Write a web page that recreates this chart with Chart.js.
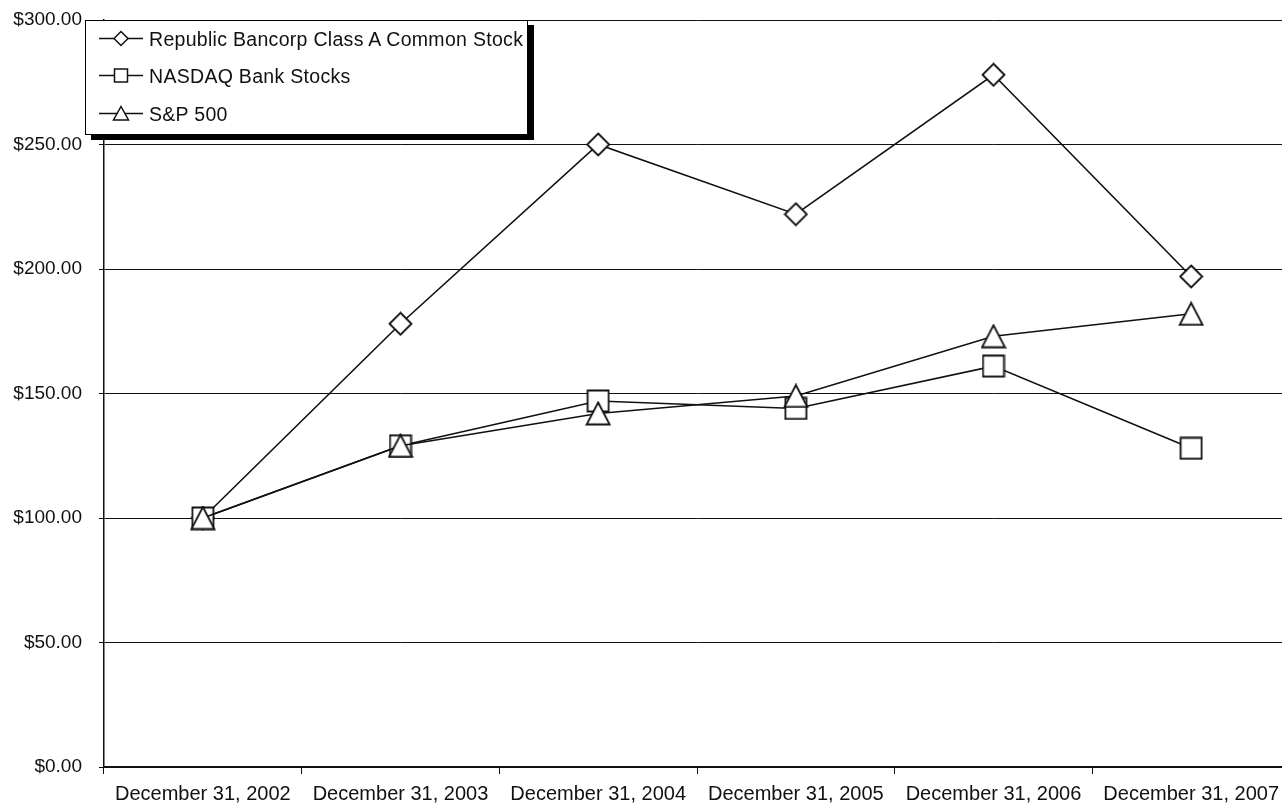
<!DOCTYPE html>
<html>
<head>
<meta charset="utf-8">
<script src="https://cdn.jsdelivr.net/npm/chart.js@4.4.1/dist/chart.umd.min.js"></script>
<style>
  body { margin: 0; background: #fff; overflow: hidden; }
  #wrap { position: relative; width: 1282px; height: 803px; overflow: hidden; }
  #legend {
    position: absolute; left: 85px; top: 20px; width: 443px; height: 115px;
    box-sizing: border-box; border: 1.5px solid #000; background: #fff;
    box-shadow: 6px 5px 0 0 #000;
    font-family: "Liberation Sans", Arial, sans-serif; font-size: 19.5px; color: #111;
    letter-spacing: 0.3px;
  }
  .row { position: absolute; left: 13px; height: 20px; display: flex; align-items: center; }
  .row svg { margin-right: 5px; }
</style>
</head>
<body>
<div id="wrap">
  <canvas id="myChart" width="1290" height="803"></canvas>
  <div id="legend"></div>
</div>
<script>
var years = ["December 31, 2002", "December 31, 2003", "December 31, 2004", "December 31, 2005", "December 31, 2006", "December 31, 2007"];
var seriesNames = ["Republic Bancorp Class A Common Stock", "NASDAQ Bank Stocks", "S&P 500"];
var republic = [100, 178, 250, 222, 278, 197];
var nasdaq = [100, 129, 147, 144, 161, 128];
var sp500 = [100, 129, 142, 149, 173, 182];
var yTicks = [0, 50, 100, 150, 200, 250, 300];

// marker images, drawn centered on the point
function marker(shape, w, h) {
  let c = document.createElement("canvas");
  c.width = w + 3;
  c.height = h + 3;
  let ctx = c.getContext("2d");
  let x0 = 1.5, y0 = 1.5;
  ctx.beginPath();
  if (shape == "diamond") {
    ctx.moveTo(x0 + w / 2, y0);
    ctx.lineTo(x0 + w, y0 + h / 2);
    ctx.lineTo(x0 + w / 2, y0 + h);
    ctx.lineTo(x0, y0 + h / 2);
  } else if (shape == "square") {
    ctx.rect(x0, y0, w, h);
  } else {
    ctx.moveTo(x0 + w / 2, y0);
    ctx.lineTo(x0 + w, y0 + h);
    ctx.lineTo(x0, y0 + h);
  }
  ctx.closePath();
  ctx.fillStyle = "#fff";
  ctx.fill();
  ctx.lineWidth = 1.8;
  ctx.strokeStyle = "#111";
  ctx.stroke();
  return c;
}

let diamond = marker("diamond", 22, 22);
let square = marker("square", 21, 21);
let triangle = marker("triangle", 23, 22);

function ds(label, data, style, order) {
  return {
    label: label,
    data: data,
    borderColor: "#111",
    borderWidth: 1.6,
    pointStyle: style,
    pointRadius: 11,
    tension: 0,
    order: order
  };
}

new Chart("myChart", {
  type: "line",
  data: {
    labels: years,
    datasets: [
      ds(seriesNames[0], republic, diamond, 3),
      ds(seriesNames[1], nasdaq, square, 2),
      ds(seriesNames[2], sp500, triangle, 1)
    ]
  },
  options: {
    responsive: false,
    animation: false,
    layout: { autoPadding: false, padding: { top: 20, right: 0, left: 0, bottom: 0 } },
    plugins: { legend: { display: false }, tooltip: { enabled: false } },
    scales: {
      x: {
        offset: true,
        grid: { display: true, drawOnChartArea: false, offset: true, color: "#111", tickLength: 7, lineWidth: 1 },
        border: { color: "#111", width: 2 },
        ticks: { color: "#111", font: { family: "Liberation Sans", size: 20 }, padding: 8, maxRotation: 0, autoSkip: false },
        afterFit: function (s) { s.height = 36; s.paddingLeft = 0; s.paddingRight = 0; }
      },
      y: {
        min: 0,
        max: 300,
        afterBuildTicks: function (s) { s.ticks = yTicks.map(function (v) { return { value: v }; }); },
        grid: { color: "#111", lineWidth: 1, tickLength: 5 },
        border: { color: "#111", width: 1.5 },
        ticks: {
          color: "#111", font: { family: "Liberation Sans", size: 19 }, padding: 17,
          callback: function (v) { return "$" + Number(v).toFixed(2); }
        },
        afterFit: function (s) { s.width = 104; s.paddingTop = 0; s.paddingBottom = 0; }
      }
    }
  }
});

// legend box
function svgMarker(shape) {
  let m;
  if (shape == "diamond") m = '<polygon points="22,2.5 29,9.5 22,16.5 15,9.5" />';
  else if (shape == "square") m = '<rect x="15.5" y="3" width="13" height="13" />';
  else m = '<polygon points="22,2.5 29.5,16 14.5,16" />';
  return '<svg width="45" height="20" viewBox="0 0 45 20"><line x1="0" y1="9.5" x2="44" y2="9.5" stroke="#111" stroke-width="1.5"/>' +
    '<g fill="#fff" stroke="#111" stroke-width="1.5">' + m + '</g></svg>';
}
let shapes = ["diamond", "square", "triangle"];
let rowTops = [8, 45, 83];
let legend = document.getElementById("legend");
for (let k = 0; k < seriesNames.length; k++) {
  let row = document.createElement("div");
  row.className = "row";
  row.style.top = rowTops[k] + "px";
  row.innerHTML = svgMarker(shapes[k]);
  let t = document.createElement("span");
  t.textContent = seriesNames[k];
  row.appendChild(t);
  legend.appendChild(row);
}
</script>
</body>
</html>
